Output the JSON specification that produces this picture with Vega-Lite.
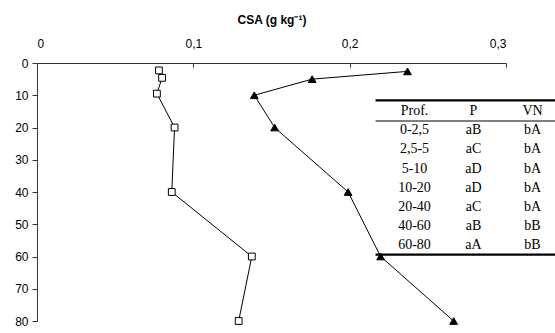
{
  "$schema": "https://vega.github.io/schema/vega-lite/v6.json",
  "width": 469,
  "height": 258,
  "autosize": {"type": "none"},
  "padding": {"left": 37, "top": 63, "right": 49, "bottom": 12},
  "background": "white",
  "config": {
    "view": {"stroke": null},
    "axis": {"grid": false, "labelFont": "Liberation Sans", "labelFontSize": 12, "labelColor": "#000", "domainColor": "#333", "tickColor": "#333", "titleFont": "Liberation Sans", "titleColor": "#000"}
  },
  "datasets": {
    "csa": [
      {"series": "P", "depth": 2.3, "csa": 0.078},
      {"series": "P", "depth": 4.6, "csa": 0.080},
      {"series": "P", "depth": 9.5, "csa": 0.0767},
      {"series": "P", "depth": 20, "csa": 0.088},
      {"series": "P", "depth": 40, "csa": 0.0862},
      {"series": "P", "depth": 60, "csa": 0.1374},
      {"series": "P", "depth": 80, "csa": 0.129},
      {"series": "VN", "depth": 2.6, "csa": 0.237},
      {"series": "VN", "depth": 5, "csa": 0.176},
      {"series": "VN", "depth": 10, "csa": 0.139},
      {"series": "VN", "depth": 20, "csa": 0.152},
      {"series": "VN", "depth": 40, "csa": 0.199},
      {"series": "VN", "depth": 60, "csa": 0.2198},
      {"series": "VN", "depth": 80, "csa": 0.2665}
    ],
    "table": [
      {"row": 0, "col": 0, "text": "Prof."}, {"row": 0, "col": 1, "text": "P"}, {"row": 0, "col": 2, "text": "VN"},
      {"row": 1, "col": 0, "text": "0-2,5"}, {"row": 1, "col": 1, "text": "aB"}, {"row": 1, "col": 2, "text": "bA"},
      {"row": 2, "col": 0, "text": "2,5-5"}, {"row": 2, "col": 1, "text": "aC"}, {"row": 2, "col": 2, "text": "bA"},
      {"row": 3, "col": 0, "text": "5-10"}, {"row": 3, "col": 1, "text": "aD"}, {"row": 3, "col": 2, "text": "bA"},
      {"row": 4, "col": 0, "text": "10-20"}, {"row": 4, "col": 1, "text": "aD"}, {"row": 4, "col": 2, "text": "bA"},
      {"row": 5, "col": 0, "text": "20-40"}, {"row": 5, "col": 1, "text": "aC"}, {"row": 5, "col": 2, "text": "bA"},
      {"row": 6, "col": 0, "text": "40-60"}, {"row": 6, "col": 1, "text": "aB"}, {"row": 6, "col": 2, "text": "bB"},
      {"row": 7, "col": 0, "text": "60-80"}, {"row": 7, "col": 1, "text": "aA"}, {"row": 7, "col": 2, "text": "bB"}
    ],
    "rules": [
      {"edge": -0.557, "kind": "border"},
      {"edge": 0.52, "kind": "header"},
      {"edge": 7.479, "kind": "border"}
    ]
  },
  "layer": [
    {
      "data": {"name": "csa"},
      "encoding": {
        "x": {"field": "csa", "type": "quantitative", "scale": {"domain": [0, 0.3], "nice": false},
          "axis": {"orient": "top", "values": [0, 0.1, 0.2, 0.3], "format": "~g", "labelExpr": "replace(datum.label, '.', ',')", "title": "CSA (g kg⁻¹)", "titleFontWeight": "bold", "titleFontSize": 12, "titlePadding": 11, "tickSize": -4, "labelPadding": 17}},
        "y": {"field": "depth", "type": "quantitative", "scale": {"domain": [0, 80], "reverse": true, "nice": false},
          "axis": {"values": [0, 10, 20, 30, 40, 50, 60, 70, 80], "title": null, "tickSize": 5, "labelPadding": 4}}
      },
      "layer": [
        {
          "mark": {"type": "line", "color": "#000", "strokeWidth": 1},
          "encoding": {"detail": {"field": "series"}, "order": {"field": "depth", "type": "quantitative"}}
        },
        {
          "mark": {"type": "point", "stroke": "#000", "strokeWidth": 1, "opacity": 1, "filled": false},
          "encoding": {
            "shape": {"field": "series", "type": "nominal", "scale": {"domain": ["P", "VN"], "range": ["square", "triangle-up"]}, "legend": null},
            "fill": {"field": "series", "type": "nominal", "scale": {"domain": ["P", "VN"], "range": ["#ffffff", "#000000"]}, "legend": null},
            "size": {"field": "series", "type": "nominal", "scale": {"domain": ["P", "VN"], "range": [46, 60]}, "legend": null}
          }
        }
      ]
    },
    {
      "encoding": {
        "x": {"type": "quantitative", "scale": {"domain": [-6.398, 1.551], "nice": false, "zero": false}, "axis": null},
        "y": {"type": "quantitative", "scale": {"domain": [-2.5, 10.9375], "reverse": true, "nice": false, "zero": false}, "axis": null}
      },
      "layer": [
        {
          "data": {"name": "table"},
          "mark": {"type": "text", "font": "Liberation Serif", "fontSize": 14, "baseline": "middle", "align": "center", "color": "#000"},
          "encoding": {
            "x": {"field": "col", "type": "quantitative"},
            "y": {"field": "row", "type": "quantitative"},
            "text": {"field": "text"}
          }
        },
        {
          "data": {"name": "rules"},
          "mark": {"type": "rule", "color": "#000"},
          "encoding": {
            "x": {"datum": -0.66, "type": "quantitative"},
            "x2": {"datum": 2.45},
            "y": {"field": "edge", "type": "quantitative"},
            "strokeWidth": {"field": "kind", "type": "nominal", "scale": {"domain": ["border", "header"], "range": [2.2, 1.2]}, "legend": null}
          }
        }
      ]
    }
  ],
  "resolve": {"scale": {"x": "independent", "y": "independent", "strokeWidth": "independent"}}
}
